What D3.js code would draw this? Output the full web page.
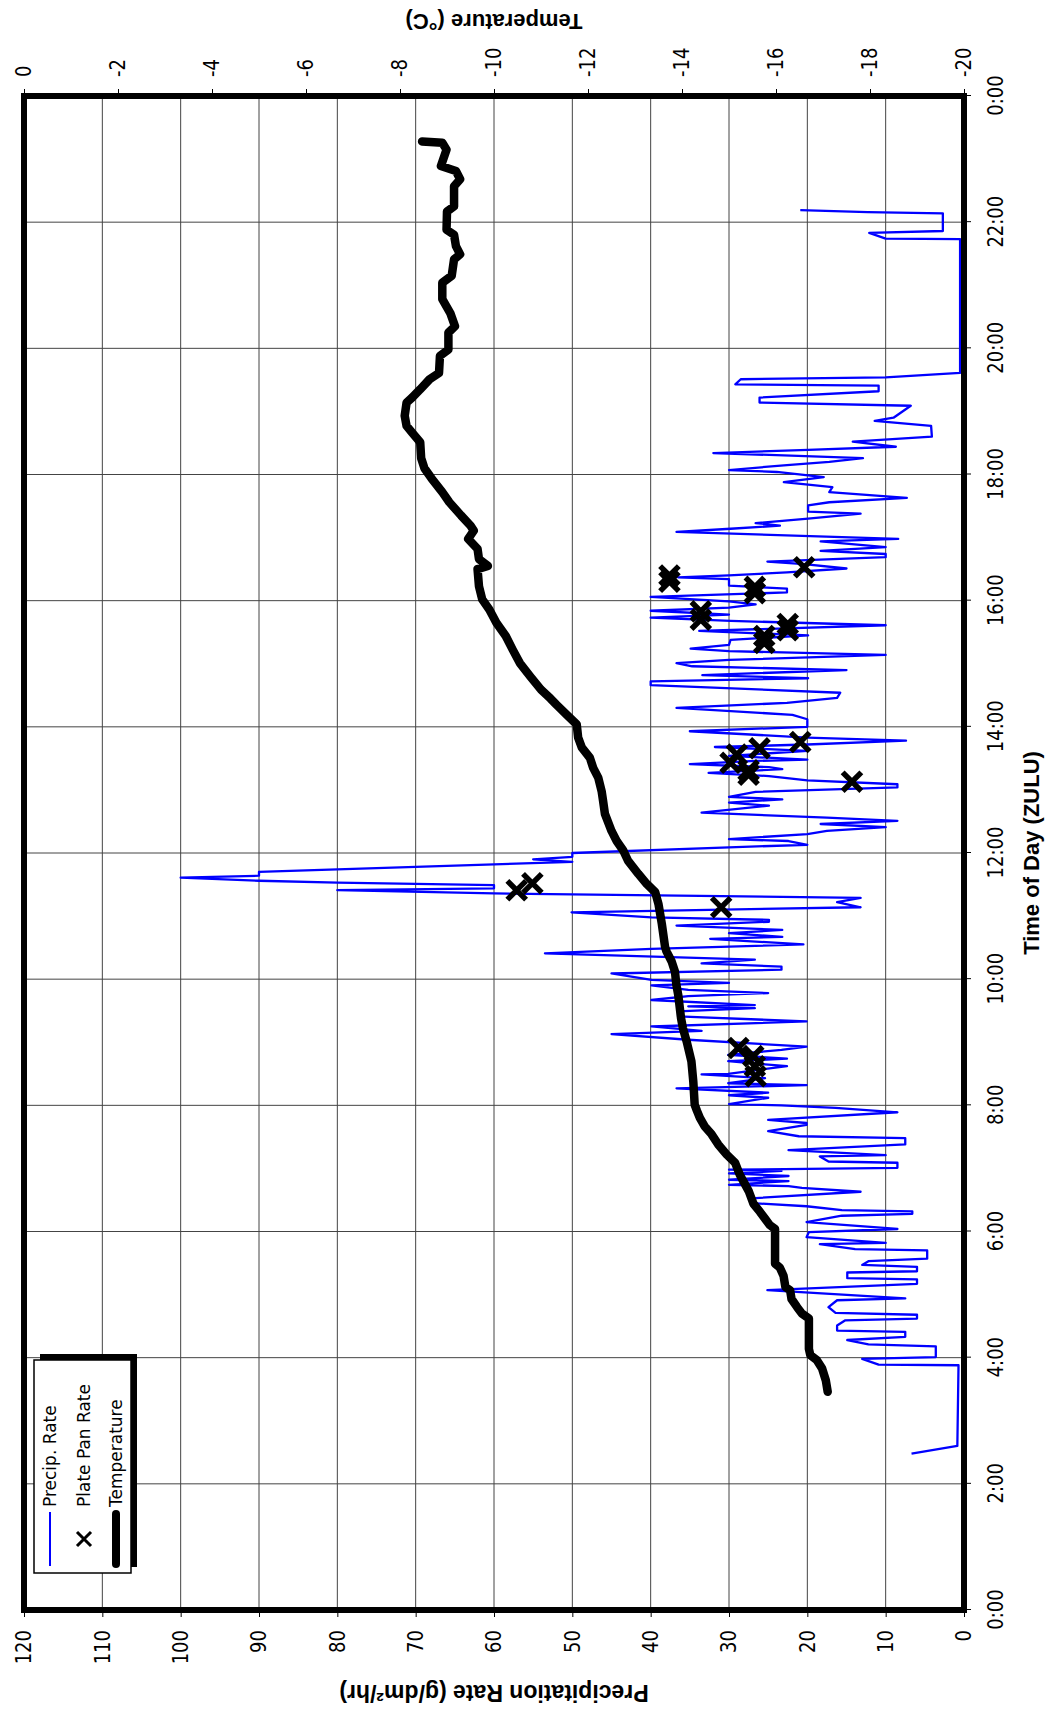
<!DOCTYPE html>
<html lang="en">
<head>
<meta charset="utf-8">
<script src="https://cdn.jsdelivr.net/npm/d3@7"></script>
<title>Precipitation and temperature</title>
<style>
  body { margin: 0; background: #fff; }
  svg { display: block; }
  .tick text { font-family: "DejaVu Sans", Verdana, sans-serif; fill: #000; }
  .title { font-family: "Liberation Sans", Arial, sans-serif; font-weight: bold; }
  .leg { font-family: "DejaVu Sans", Verdana, sans-serif; }
</style>
</head>
<body>
<svg id="chart" width="1052" height="1711"></svg>
<script>
// ticks
const timeTicks = [0, 2, 4, 6, 8, 10, 12, 14, 16, 18, 20, 22, 24]
const precipTicks = [0, 10, 20, 30, 40, 50, 60, 70, 80, 90, 100, 110, 120]
const tempTicks = [0, -2, -4, -6, -8, -10, -12, -14, -16, -18, -20]

// precip. rate, hour of day and g/dm2/hr
const precipTime = [2.48, 2.60, 3.88, 3.89, 3.98, 4.01, 4.18, 4.21, 4.28, 4.33, 4.41, 4.43, 4.51, 4.59, 4.62, 4.68, 4.71, 4.80, 4.91, 4.94,
  5.07, 5.17, 5.24, 5.26, 5.35, 5.37, 5.44, 5.47, 5.53, 5.57, 5.70, 5.72, 5.80, 5.82, 5.91, 5.99, 6.04, 6.15, 6.25, 6.28,
  6.32, 6.34, 6.40, 6.45, 6.53, 6.63, 6.69, 6.72, 6.74, 6.80, 6.82, 6.88, 6.92, 6.96, 6.98, 7.01, 7.09, 7.11, 7.19, 7.21,
  7.29, 7.38, 7.48, 7.51, 7.59, 7.69, 7.72, 7.77, 7.89, 7.96, 8.00, 8.02, 8.12, 8.16, 8.20, 8.27, 8.32, 8.35, 8.43, 8.49,
  8.50, 8.62, 8.70, 8.74, 8.80, 8.88, 8.93, 9.04, 9.13, 9.18, 9.25, 9.33, 9.41, 9.49, 9.54, 9.57, 9.59, 9.67, 9.73, 9.78,
  9.83, 9.90, 9.94, 9.99, 10.09, 10.15, 10.20, 10.25, 10.31, 10.41, 10.48, 10.55, 10.64, 10.67, 10.73, 10.78, 10.85, 10.91, 10.94, 10.98,
  11.06, 11.14, 11.22, 11.29, 11.36, 11.41, 11.44, 11.49, 11.53, 11.56, 11.61, 11.64, 11.70, 11.74, 11.78, 11.82, 11.86, 11.90, 11.94, 12.00,
  12.09, 12.13, 12.19, 12.22, 12.30, 12.35, 12.41, 12.46, 12.51, 12.56, 12.64, 12.75, 12.80, 12.85, 12.89, 12.97, 13.04, 13.09, 13.15, 13.22,
  13.27, 13.33, 13.36, 13.41, 13.46, 13.48, 13.54, 13.62, 13.68, 13.72, 13.78, 13.83, 13.93, 14.00, 14.12, 14.19, 14.30, 14.38, 14.46, 14.54,
  14.66, 14.72, 14.77, 14.82, 14.90, 14.96, 15.01, 15.06, 15.14, 15.20, 15.24, 15.30, 15.38, 15.45, 15.52, 15.61, 15.68, 15.73, 15.78, 15.84,
  15.89, 15.94, 15.99, 16.06, 16.13, 16.19, 16.24, 16.34, 16.37, 16.40, 16.45, 16.51, 16.58, 16.62, 16.69, 16.74, 16.79, 16.85, 16.94, 16.98,
  17.09, 17.14, 17.19, 17.23, 17.30, 17.38, 17.41, 17.51, 17.56, 17.63, 17.72, 17.80, 17.88, 17.96, 18.04, 18.07, 18.15, 18.20, 18.26, 18.34,
  18.39, 18.44, 18.52, 18.60, 18.77, 18.85, 18.90, 19.09, 19.14, 19.22, 19.32, 19.41, 19.43, 19.51, 19.54, 19.61, 21.73, 21.74, 21.83, 21.86,
  22.14, 22.16, 22.19]
const precipRate = [6.7, 0.85, 0.7, 10.9, 13.0, 3.6, 3.6, 12.2, 14.9, 7.5, 7.5, 16.2, 16.2, 15.2, 6.0, 6.0, 16.4, 17.3, 16.2, 7.5,
  25.1, 6.0, 6.0, 14.9, 14.9, 6.0, 6.0, 13.0, 12.2, 4.7, 4.7, 13.9, 18.4, 10.0, 20.1, 19.8, 8.5, 20.1, 15.6, 6.6,
  6.6, 15.6, 20.1, 27.0, 26.6, 13.2, 20.7, 22.4, 30.0, 22.4, 30.0, 22.4, 30.0, 23.3, 30.0, 8.5, 8.5, 17.3, 18.4, 10.0,
  22.4, 7.5, 7.5, 21.1, 25.0, 20.1, 20.1, 25.0, 8.5, 16.4, 23.3, 30.0, 25.0, 30.0, 25.0, 36.7, 20.1, 30.1, 25.4, 33.5,
  30.1, 22.6, 30.1, 22.6, 30.1, 23.3, 20.1, 35.2, 45.0, 33.5, 39.9, 20.1, 36.5, 36.5, 26.7, 35.2, 26.7, 39.9, 35.2, 25.0,
  35.2, 39.9, 30.0, 39.9, 45.0, 23.3, 23.3, 33.5, 26.7, 53.5, 39.9, 20.5, 32.4, 23.2, 30.0, 23.2, 36.7, 24.9, 24.9, 39.9,
  50.1, 13.2, 16.2, 13.2, 60, 80, 60, 60, 80, 90, 100, 90, 90, 80, 70, 60, 50, 55, 50, 50,
  30.0, 20.0, 22.4, 30.0, 20.0, 17.5, 10.0, 18.3, 8.5, 17.5, 33.5, 24.9, 30.0, 23.2, 30.0, 26.6, 8.5, 8.5, 20.0, 24.9,
  32.6, 23.2, 24.9, 35.0, 26.6, 20.0, 30.0, 20.0, 31.8, 20.0, 7.4, 20.0, 35.0, 20.0, 20.0, 21.9, 36.7, 22.6, 16.2, 15.8,
  40.0, 40.0, 19.9, 33.4, 15.0, 34.7, 36.7, 30.0, 10.0, 30.0, 34.9, 30.0, 29.8, 19.9, 33.8, 10.0, 29.8, 40.0, 30.0, 40.0,
  30.0, 26.6, 30.0, 40.0, 22.6, 22.6, 30.0, 30.0, 36.5, 30.0, 22.6, 15.0, 20.4, 25.1, 10.0, 10.0, 18.3, 10.0, 18.3, 8.4,
  36.7, 29.8, 23.5, 26.6, 19.9, 13.2, 19.9, 19.9, 17.2, 7.3, 17.2, 16.8, 23.0, 17.9, 23.9, 30.0, 22.6, 17.2, 12.9, 32.0,
  19.9, 8.7, 14.2, 4.1, 4.2, 11.4, 9.0, 6.8, 26.1, 26.1, 10.9, 10.9, 29.2, 28.5, 10.0, 0.5, 0.5, 10.0, 12.1, 2.7,
  2.7, 12.3, 20.9]

// plate pan rate
const panTime = [8.46, 8.62, 8.78, 8.91, 11.14, 11.41, 11.52, 13.13, 13.24, 13.31, 13.43, 13.56, 13.66, 13.76,
  15.33, 15.44, 15.53, 15.63, 15.70, 15.83, 16.12, 16.22, 16.30, 16.40, 16.53]
const panRate = [26.6, 26.7, 26.9, 28.8, 31.0, 57.1, 55.1, 14.3, 27.5, 27.5, 29.8, 29.0, 26.1, 20.9,
  25.5, 25.5, 22.5, 22.5, 33.6, 33.6, 26.7, 26.7, 37.6, 37.6, 20.4]

// temperature, deg C
const tempTime = [3.46, 3.64, 3.83, 3.96, 4.04, 4.14, 4.62, 4.70, 4.80, 4.93, 5.07, 5.12, 5.30, 5.43, 5.49, 6.04, 6.10, 6.20, 6.31, 6.44,
  6.64, 6.90, 7.09, 7.22, 7.38, 7.54, 7.67, 7.80, 7.91, 8.01, 8.38, 8.70, 9.01, 9.22, 9.38, 9.75, 9.91, 10.12, 10.28, 10.44,
  10.51, 10.88, 11.19, 11.38, 11.51, 11.67, 11.88, 12.04, 12.19, 12.35, 12.62, 12.83, 12.98, 13.19, 13.35, 13.51, 13.67, 13.83, 14.04, 14.19,
  14.35, 14.45, 14.59, 14.80, 15.01, 15.22, 15.44, 15.65, 15.86, 16.02, 16.23, 16.50, 16.55, 16.66, 16.82, 16.98, 17.11, 17.19, 17.35, 17.56,
  17.72, 17.94, 18.10, 18.26, 18.51, 18.66, 18.77, 18.93, 19.14, 19.22, 19.35, 19.51, 19.61, 19.88, 19.98, 20.25, 20.35, 20.56, 20.78, 21.04,
  21.15, 21.41, 21.49, 21.62, 21.80, 21.88, 22.17, 22.25, 22.57, 22.68, 22.81, 22.89, 23.15, 23.26, 23.28]
const tempValue = [-17.1, -17.06, -16.98, -16.87, -16.73, -16.7, -16.7, -16.55, -16.45, -16.33, -16.3, -16.2, -16.16, -16.08, -15.98, -15.98, -15.87, -15.77, -15.66, -15.52,
  -15.42, -15.23, -15.13, -14.95, -14.77, -14.63, -14.48, -14.38, -14.32, -14.27, -14.24, -14.2, -14.1, -14.02, -13.98, -13.92, -13.88, -13.85, -13.78, -13.67,
  -13.64, -13.57, -13.5, -13.43, -13.25, -13.07, -12.85, -12.75, -12.61, -12.5, -12.36, -12.32, -12.29, -12.22, -12.11, -12.04, -11.87, -11.79, -11.76, -11.55,
  -11.33, -11.2, -11.0, -10.77, -10.55, -10.4, -10.25, -10.05, -9.9, -9.75, -9.68, -9.65, -9.87, -9.68, -9.65, -9.45, -9.57, -9.5, -9.3, -9.05,
  -8.9, -8.67, -8.52, -8.45, -8.43, -8.26, -8.14, -8.1, -8.14, -8.26, -8.43, -8.63, -8.83, -8.85, -9.03, -9.03, -9.17, -9.07, -8.9, -8.9,
  -9.1, -9.15, -9.28, -9.19, -9.15, -8.99, -9.0, -9.15, -9.15, -9.28, -9.19, -8.87, -8.99, -8.9, -8.47]

// the chart is drawn the usual way (time along x) and turned a quarter left
var plotL = 24, plotR = 964, plotT = 96, plotB = 1610
var W = plotB - plotT, H = plotR - plotL

var svg = d3.select('#chart')
var g = svg.append('g')
  .attr('transform', `translate(${plotL},${plotB}) rotate(-90)`)

var x = d3.scaleLinear().domain([0, 24]).range([0, W])
var yP = d3.scaleLinear().domain([0, 120]).range([H, 0])
var yT = d3.scaleLinear().domain([-20, 0]).range([H, 0])

// grid
g.append('g').selectAll('line')
  .data(timeTicks.slice(1, -1))
  .join('line')
  .attr('x1', d => x(d)).attr('x2', d => x(d))
  .attr('y1', 0).attr('y2', H)
  .attr('stroke', '#444').attr('stroke-width', 1)

g.append('g').selectAll('line')
  .data(precipTicks.slice(1, -1))
  .join('line')
  .attr('x1', 0).attr('x2', W)
  .attr('y1', d => yP(d)).attr('y2', d => yP(d))
  .attr('stroke', '#444').attr('stroke-width', 1)

// axes
var xAxis = d3.axisBottom(x)
  .tickValues(timeTicks)
  .tickFormat(d => (d % 24) + ':00')
  .tickSize(7).tickPadding(13)

var pAxis = d3.axisLeft(yP)
  .tickValues(precipTicks)
  .tickFormat(d => String(d))
  .tickSize(7).tickPadding(13)

var tAxis = d3.axisRight(yT)
  .tickValues(tempTicks)
  .tickFormat(d => String(d))
  .tickSize(7).tickPadding(12)

function styleAxis(sel) {
  sel.select('.domain').remove()
  sel.selectAll('.tick line').attr('stroke', '#000')
  sel.selectAll('.tick text')
    .attr('font-size', 18)
    .attr('transform', 'scale(1,1.2)')
}

g.append('g').attr('transform', `translate(0,${H})`).call(xAxis).call(styleAxis)
g.append('g').call(pAxis).call(styleAxis)
g.append('g').attr('transform', `translate(${W},0)`).call(tAxis).call(styleAxis)

// series
var precipLine = d3.line()
  .x(i => x(precipTime[i]))
  .y(i => yP(precipRate[i]))

g.append('path')
  .datum(d3.range(precipTime.length))
  .attr('d', precipLine)
  .attr('fill', 'none')
  .attr('stroke', '#0000ff')
  .attr('stroke-width', 2.3)
  .attr('stroke-linejoin', 'round')

var cross = d3.symbol(d3.symbolX, 230)

g.append('g').selectAll('path')
  .data(d3.range(panTime.length))
  .join('path')
  .attr('d', cross)
  .attr('transform', i => `translate(${x(panTime[i])},${yP(panRate[i])})`)
  .attr('fill', 'none')
  .attr('stroke', '#000')
  .attr('stroke-width', 5.5)

var tempLine = d3.line()
  .x(i => x(tempTime[i]))
  .y(i => yT(tempValue[i]))

g.append('path')
  .datum(d3.range(tempTime.length))
  .attr('d', tempLine)
  .attr('fill', 'none')
  .attr('stroke', '#000')
  .attr('stroke-width', 8.5)
  .attr('stroke-linejoin', 'round')
  .attr('stroke-linecap', 'round')

// frame
g.append('rect')
  .attr('x', 0).attr('y', 0)
  .attr('width', W).attr('height', H)
  .attr('fill', 'none')
  .attr('stroke', '#000')
  .attr('stroke-width', 6)

// titles
g.append('text')
  .attr('class', 'title')
  .attr('x', W / 2).attr('y', H + 67)
  .attr('dy', '0.35em')
  .attr('text-anchor', 'middle')
  .attr('font-size', 22)
  .text('Time of Day (ZULU)')

g.append('text')
  .attr('class', 'title')
  .attr('transform', `translate(-83,${H / 2}) rotate(-90)`)
  .attr('dy', '0.35em')
  .attr('text-anchor', 'middle')
  .attr('font-size', 23)
  .text('Precipitation Rate (g/dm\u00b2/hr)')

g.append('text')
  .attr('class', 'title')
  .attr('transform', `translate(${W + 74},${H / 2}) rotate(-90)`)
  .attr('dy', '0.35em')
  .attr('text-anchor', 'middle')
  .attr('font-size', 22)
  .text('Temperature (\u00b0C)')

// legend
var leg = g.append('g').attr('transform', 'translate(37,10)')
leg.append('rect')
  .attr('x', 6).attr('y', 6).attr('width', 213).attr('height', 97)
  .attr('fill', '#000')
leg.append('rect')
  .attr('x', 0).attr('y', 0).attr('width', 213).attr('height', 97)
  .attr('fill', '#fff').attr('stroke', '#000').attr('stroke-width', 1.5)

var rows = [16, 50, 82]
leg.append('line')
  .attr('x1', 7).attr('x2', 61).attr('y1', rows[0]).attr('y2', rows[0])
  .attr('stroke', '#0000ff').attr('stroke-width', 2)
leg.append('path')
  .attr('d', d3.symbol(d3.symbolX, 130))
  .attr('transform', `translate(34,${rows[1]})`)
  .attr('fill', 'none').attr('stroke', '#000').attr('stroke-width', 3)
leg.append('line')
  .attr('x1', 9).attr('x2', 59).attr('y1', rows[2]).attr('y2', rows[2])
  .attr('stroke', '#000').attr('stroke-width', 8).attr('stroke-linecap', 'round')

leg.selectAll('text.leg')
  .data(['Precip. Rate', 'Plate Pan Rate', 'Temperature'])
  .join('text')
  .attr('class', 'leg')
  .attr('x', 66)
  .attr('y', (d, i) => rows[i])
  .attr('dy', '0.35em')
  .attr('font-size', 17)
  .text(d => d)
</script>
</body>
</html>
